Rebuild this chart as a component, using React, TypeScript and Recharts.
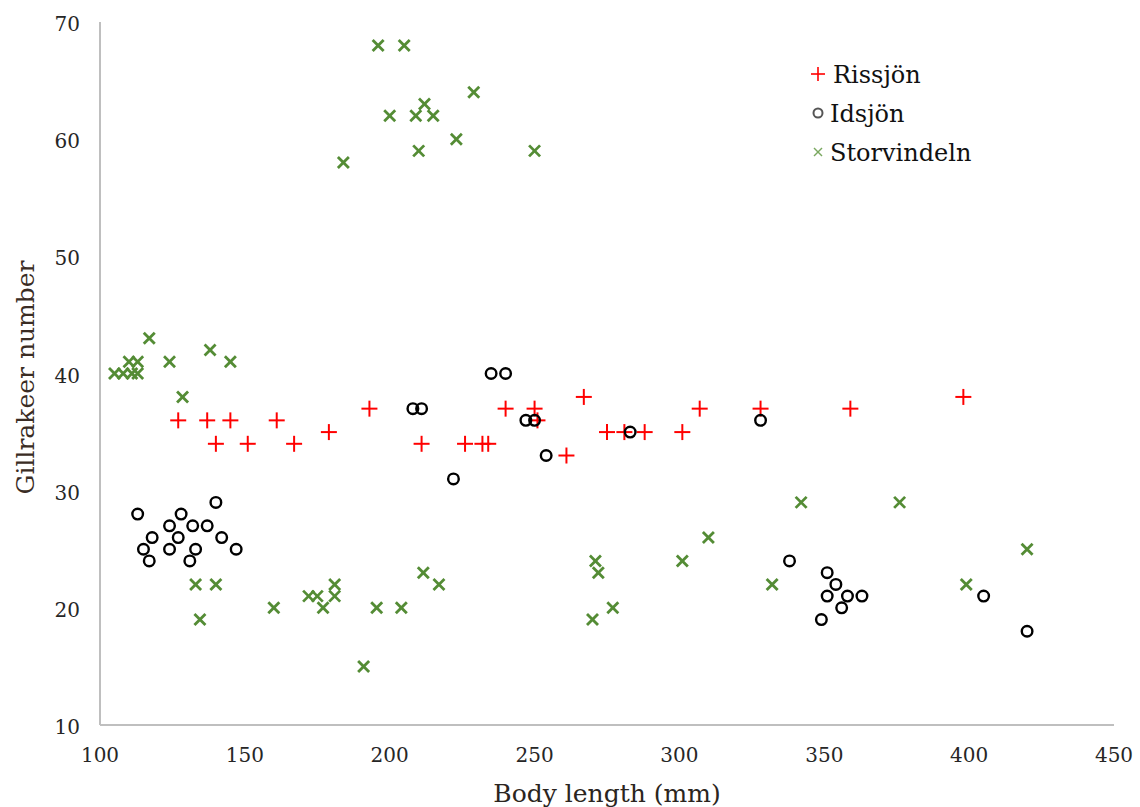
import React from 'react';
import { ScatterChart, Scatter, XAxis, YAxis, Legend, Label } from 'recharts';

const xTicks = [100, 150, 200, 250, 300, 350, 400, 450];
const yTicks = [10, 20, 30, 40, 50, 60, 70];

const rissjon = [
  [127, 36], [137, 36], [145, 36], [140, 34], [151, 34], [161, 36], [167, 34], [179, 35],
  [193, 37], [211, 34], [226, 34], [232, 34], [234, 34], [240, 37], [250, 37], [251, 36],
  [267, 38], [261, 33], [275, 35], [281, 35], [288, 35], [301, 35], [307, 37], [328, 37],
  [359, 37], [398, 38],
];

const idsjon = [
  [113, 28], [128, 28], [140, 29], [124, 27], [132, 27], [137, 27], [118, 26], [127, 26],
  [142, 26], [115, 25], [124, 25], [133, 25], [147, 25], [117, 24], [131, 24], [208, 37],
  [211, 37], [235, 40], [240, 40], [247, 36], [250, 36], [222, 31], [254, 33], [283, 35],
  [328, 36], [338, 24], [351, 23], [354, 22], [351, 21], [358, 21], [363, 21], [405, 21],
  [349, 19], [356, 20], [420, 18],
];

const storvindeln = [
  [105, 40], [108, 40], [111, 40], [113, 40], [110, 41], [113, 41], [117, 43], [124, 41],
  [138, 42], [145, 41], [128.5, 38], [133, 22], [140, 22], [134.5, 19], [160, 20], [172, 21],
  [175, 21], [177, 20], [181, 22], [181, 21], [191, 15], [195.5, 20], [204, 20], [211.6, 23],
  [217, 22], [196, 68], [205, 68], [184, 58], [200, 62], [209, 62], [215, 62], [212, 63],
  [229, 64], [223, 60], [210, 59], [250, 59], [271, 24], [272, 23], [270, 19], [277, 20],
  [301, 24], [310, 26], [332, 22], [342, 29], [376, 29], [399, 22], [420, 25],
];

const toData = (arr: number[][]) => arr.map(([x, y]) => ({ x, y }));

const RED = '#ff0000';
const BLACK = '#000000';
const GREEN = '#548c35';
const FONT = '"DejaVu Serif", "Liberation Serif", serif';
const TEXT = '#262626';

const PlusShape = (props: any) => {
  const { cx, cy } = props;
  const s = 8;
  return (
    <g>
      <line x1={cx - s} y1={cy} x2={cx + s} y2={cy} stroke={RED} strokeWidth={2} />
      <line x1={cx} y1={cy - s} x2={cx} y2={cy + s} stroke={RED} strokeWidth={2} />
    </g>
  );
};

const CircleShape = (props: any) => {
  const { cx, cy } = props;
  return <circle cx={cx} cy={cy} r={5.3} fill="none" stroke={BLACK} strokeWidth={2.4} />;
};

const CrossShape = (props: any) => {
  const { cx, cy } = props;
  const s = 5.5;
  return (
    <g>
      <line x1={cx - s} y1={cy - s} x2={cx + s} y2={cy + s} stroke={GREEN} strokeWidth={2.8} />
      <line x1={cx - s} y1={cy + s} x2={cx + s} y2={cy - s} stroke={GREEN} strokeWidth={2.8} />
    </g>
  );
};

const XTick = (props: any) => {
  const { x, y, payload } = props;
  return (
    <text x={x} y={y + 30} textAnchor="middle" dominantBaseline="central" fontFamily={FONT} fontSize={20} fill={TEXT}>
      {payload.value}
    </text>
  );
};

const YTick = (props: any) => {
  const { x, y, payload } = props;
  return (
    <text x={x - 20} y={y + 2} textAnchor="end" dominantBaseline="central" fontFamily={FONT} fontSize={20} fill={TEXT}>
      {payload.value}
    </text>
  );
};

const legendItems = [
  { name: 'Rissjön', kind: 'plus' },
  { name: 'Idsjön', kind: 'circle' },
  { name: 'Storvindeln', kind: 'cross' },
];

const LegendContent = () => (
  <svg width={220} height={120}>
    {legendItems.map((it, i) => {
      const cy = 19 + i * 39;
      const cx = 12;
      let sym: any = null;
      if (it.kind === 'plus') {
        sym = (
          <g>
            <line x1={cx - 7} y1={cy} x2={cx + 7} y2={cy} stroke={RED} strokeWidth={1.6} />
            <line x1={cx} y1={cy - 7} x2={cx} y2={cy + 7} stroke={RED} strokeWidth={1.6} />
          </g>
        );
      } else if (it.kind === 'circle') {
        sym = <circle cx={cx} cy={cy} r={4.5} fill="none" stroke="#555" strokeWidth={2} />;
      } else {
        sym = (
          <g>
            <line x1={cx - 4} y1={cy - 4} x2={cx + 4} y2={cy + 4} stroke="#7aa860" strokeWidth={1.4} />
            <line x1={cx - 4} y1={cy + 4} x2={cx + 4} y2={cy - 4} stroke="#7aa860" strokeWidth={1.4} />
          </g>
        );
      }
      return (
        <g key={it.name}>
          {sym}
          <text x={it.kind === 'plus' ? 27 : 24} y={cy + 1} dominantBaseline="central" fontFamily={FONT} fontSize={24} fill="#111">
            {it.name}
          </text>
        </g>
      );
    })}
  </svg>
);

export default function App() {
  return (
    <div style={{ position: 'absolute', left: 0, top: 0, width: 1140, height: 807, background: '#fff' }}>
      <ScatterChart width={1140} height={807} margin={{ top: 22, right: 26, bottom: 0, left: 0 }}>
        <XAxis
          type="number"
          dataKey="x"
          domain={[100, 450]}
          ticks={xTicks}
          allowDataOverflow
          height={82}
          tickSize={0}
          tickMargin={0}
          tickLine={false}
          axisLine={{ stroke: '#bfbfbf', strokeWidth: 2 }}
          tick={<XTick />}
        >
          <Label
            content={(p: any) => {
              const vb = p.viewBox;
              return (
                <text x={vb.x + vb.width / 2} y={vb.y + 68} textAnchor="middle" dominantBaseline="central" fontFamily={FONT} fontSize={25} fill="#2b2520">
                  Body length (mm)
                </text>
              );
            }}
          />
        </XAxis>
        <YAxis
          type="number"
          dataKey="y"
          domain={[10, 70]}
          ticks={yTicks}
          allowDataOverflow
          width={100}
          tickSize={0}
          tickMargin={0}
          tickLine={false}
          axisLine={{ stroke: '#bfbfbf', strokeWidth: 2 }}
          tick={<YTick />}
        >
          <Label
            content={(p: any) => {
              const vb = p.viewBox;
              const cx = 25;
              const cy = vb.y + vb.height / 2 + 4;
              return (
                <text x={cx} y={cy} textAnchor="middle" dominantBaseline="central" fontFamily={FONT} fontSize={25} fill="#3a2c24" transform={`rotate(-90, ${cx}, ${cy})`}>
                  Gillrakeer number
                </text>
              );
            }}
          />
        </YAxis>
        <Legend
          layout="horizontal"
          verticalAlign="middle"
          align="center"
          wrapperStyle={{ position: 'absolute', left: 806, top: 55, width: 220, height: 120 }}
          content={<LegendContent />}
        />
        <Scatter name="Rissjön" data={toData(rissjon)} shape={<PlusShape />} isAnimationActive={false} />
        <Scatter name="Idsjön" data={toData(idsjon)} shape={<CircleShape />} isAnimationActive={false} />
        <Scatter name="Storvindeln" data={toData(storvindeln)} shape={<CrossShape />} isAnimationActive={false} />
      </ScatterChart>
    </div>
  );
}
